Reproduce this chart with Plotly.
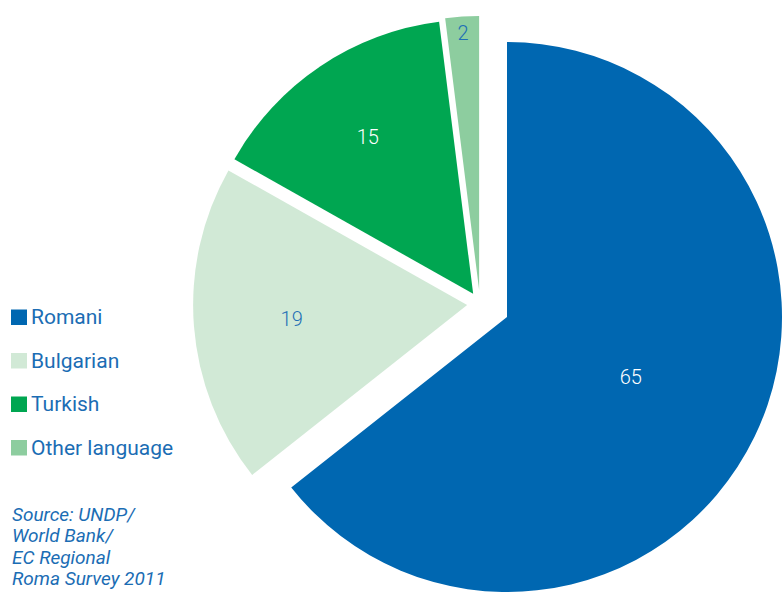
import plotly.graph_objects as go

# Language mainly spoken at home (%)
languages = ["Romani", "Bulgarian", "Turkish", "Other language"]
shares = [65, 19, 15, 2]
slice_colors = ["#0067b1", "#d1e9d6", "#00a651", "#8dcd9f"]
label_colors = ["#ffffff", "#1f6fb5", "#ffffff", "#1f6fb5"]
source_lines = ["Source: UNDP/", "World Bank/", "EC Regional", "Roma Survey 2011"]

W, H = 782, 592
TEXT_BLUE = "#1b6db4"
FONT = "Roboto"
CLEAR = "rgba(0,0,0,0)"


def px(x):
    return x / W


def py(y):
    return 1 - y / H


fig = go.Figure()

# The large slice sits in place; the smaller ones are exploded out as a group.
main = [i == 0 for i in range(len(languages))]
fig.add_trace(go.Pie(
    labels=languages, values=shares, sort=False, direction="clockwise", rotation=0,
    marker=dict(colors=[c if m else CLEAR for c, m in zip(slice_colors, main)],
                line=dict(width=0)),
    texttemplate=["%{value}" if m else "" for m in main],
    textposition="inside", insidetextorientation="horizontal",
    textfont=dict(family=FONT, size=20, color=label_colors, weight=300),
    domain=dict(x=[px(507 - 275), 1.0], y=[0, (2 * 275) / H]),
    showlegend=False, hoverinfo="label+value",
))

pulls = [0, 0.047, 0.045, 0.051]
fig.add_trace(go.Pie(
    labels=languages, values=shares, sort=False, direction="clockwise", rotation=0,
    pull=pulls,
    marker=dict(colors=[CLEAR if m else c for c, m in zip(slice_colors, main)],
                line=dict(width=0)),
    texttemplate=["" if m else "%{value}" for m in main],
    textposition="inside", insidetextorientation="horizontal",
    textfont=dict(family=FONT, size=20, color=label_colors, weight=300),
    domain=dict(x=[px(480 - 288), px(480 + 288)], y=[0, (2 * 288) / H]),
    showlegend=False, hoverinfo="label+value",
))

# Legend key down the left side
shapes, annotations = [], []
for k, (name, col) in enumerate(zip(languages, slice_colors)):
    yc = 317 + k * 43.5
    shapes.append(dict(type="rect", xref="paper", yref="paper",
                       x0=px(11), x1=px(27), y0=py(yc + 8), y1=py(yc - 7.5),
                       fillcolor=col, line=dict(width=0)))
    annotations.append(dict(text=name, xref="paper", yref="paper",
                            x=px(29), y=py(yc), xanchor="left", yanchor="middle",
                            showarrow=False,
                            font=dict(family=FONT, size=21, color=TEXT_BLUE)))

# Source note, one line per annotation
for k, line in enumerate(source_lines):
    annotations.append(dict(text="<i>" + line + "</i>",
                            xref="paper", yref="paper", x=px(10), y=py(514 + 21.5 * k),
                            xanchor="left", yanchor="middle", align="left",
                            showarrow=False,
                            font=dict(family=FONT, size=19, color=TEXT_BLUE)))

fig.update_layout(
    width=W, height=H,
    margin=dict(l=0, r=0, t=0, b=0),
    paper_bgcolor="white", plot_bgcolor="white",
    shapes=shapes, annotations=annotations,
    showlegend=False,
)

fig.write_html("out.html")
